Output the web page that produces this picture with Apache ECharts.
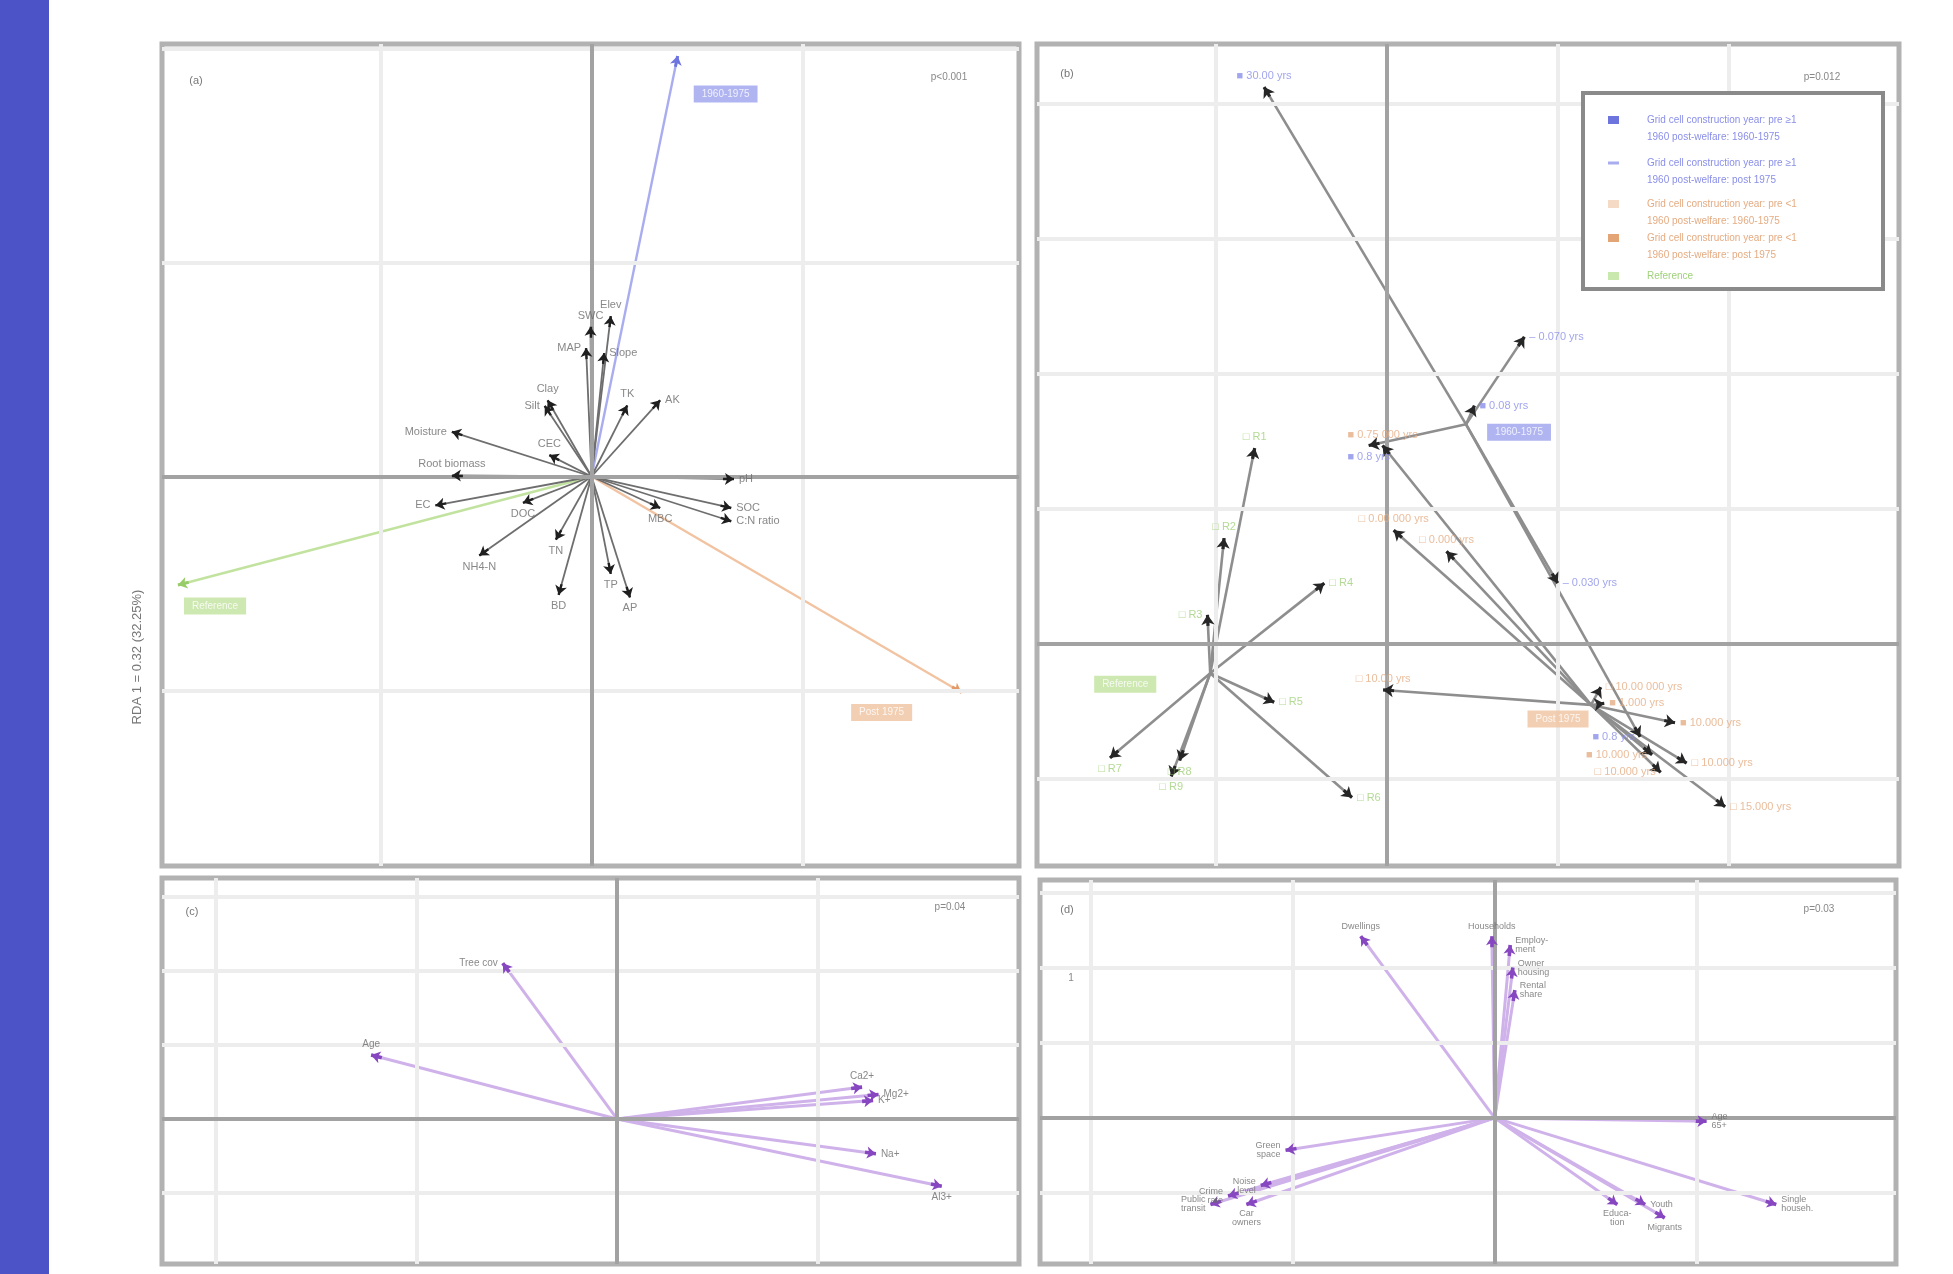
<!DOCTYPE html>
<html>
<head>
<meta charset="utf-8">
<title>RDA biplots</title>
<script src="https://cdn.jsdelivr.net/npm/echarts@6/dist/echarts.min.js"></script>
<style>
  html, body { margin: 0; padding: 0; background: #ffffff; }
  #chart { width: 1953px; height: 1274px; }
</style>
</head>
<body>
<div id="chart"></div>
<script>
// ---------------- data ----------------
// (a) environmental vectors (RDA scores)
const aVarNames = ['SWC', 'Elev', 'Slope', 'MAP', 'Clay', 'Silt', 'Moisture', 'TK', 'AK', 'pH', 'SOC',
  'C:N ratio', 'MBC', 'TN', 'NH4-N', 'BD', 'TP', 'AP', 'EC', 'Root biomass', 'DOC', 'CEC'];
const aVarX = [-0.005, 0.091, 0.060, -0.026, -0.208, -0.222, -0.662, 0.169, 0.325, 0.675, 0.662,
  0.662, 0.325, -0.169, -0.532, -0.156, 0.091, 0.182, -0.740, -0.662, -0.325, -0.200];
const aVarY = [0.700, 0.749, 0.577, 0.600, 0.356, 0.330, 0.209, 0.332, 0.356, -0.012, -0.147,
  -0.209, -0.147, -0.295, -0.369, -0.553, -0.455, -0.565, -0.135, 0.005, -0.123, 0.100];

// (a) group vectors
const groupNames = ['1960-1975', 'Post 1975', 'Reference'];
const aGroupX = [0.408, 1.754, -1.960];
const aGroupY = [1.965, -1.009, -0.507];

// (b) group centroids and sites
const bCentroidX = [0.462, 1.193, -1.034];
const bCentroidY = [1.627, -0.451, -0.216];
const bSiteLabels = ['30.00 yrs', '0.070 yrs', '0.08 yrs', '0.030 yrs', '0.8 yrs', '0.8 yrs',
  '0.75 000 yrs', '0.00 000 yrs', '0.000 yrs', '10.00 yrs', '10.000 yrs', '10.000 yrs', '15.000 yrs',
  '10.00 000 yrs', '1.000 yrs', '10.000 yrs', '10.000 yrs',
  'R1', 'R2', 'R3', 'R4', 'R5', 'R6', 'R7', 'R8', 'R9'];
const bSiteGroup = [0, 0, 0, 0, 0, 0,
  1, 1, 1, 1, 1, 1, 1, 1, 1, 1, 1,
  2, 2, 2, 2, 2, 2, 2, 2, 2];
const bSiteClass = [0, 1, 0, 1, 0, 0,
  3, 2, 2, 2, 3, 2, 2, 2, 3, 3, 2,
  4, 4, 4, 4, 4, 4, 4, 4, 4];
const bSiteX = [-0.719, 0.803, 0.511, 0.998, -0.107, 1.480,
  -0.026, 0.039, 0.348, -0.023, 1.684, 1.752, 1.977, 1.250, 1.270, 1.550, 1.600,
  -0.774, -0.953, -1.050, -0.367, -0.660, -0.205, -1.620, -1.213, -1.262];
const bSiteY = [4.125, 2.275, 1.765, 0.451, 1.470, -0.687,
  1.470, 0.843, 0.686, -0.340, -0.583, -0.882, -1.205, -0.320, -0.440, -0.820, -0.950,
  1.451, 0.784, 0.216, 0.451, -0.431, -1.137, -0.843, -0.863, -0.980];
const bClassText = [
  ['Grid cell construction year: pre \u22651', '1960 post-welfare: 1960-1975'],
  ['Grid cell construction year: pre \u22651', '1960 post-welfare: post 1975'],
  ['Grid cell construction year: pre <1', '1960 post-welfare: 1960-1975'],
  ['Grid cell construction year: pre <1', '1960 post-welfare: post 1975'],
  ['Reference']
];

// (c) vectors
const cVarNames = ['Tree cov', 'Age', 'Ca2+', 'Mg2+', 'K+', 'Na+', 'Al3+'];
const cVarX = [-0.569, -1.225, 1.221, 1.303, 1.276, 1.290, 1.618];
const cVarY = [2.105, 0.864, 0.431, 0.331, 0.249, -0.470, -0.910];

// (d) vectors
const dVarNames = ['Dwellings', 'Households', 'Employ-\nment', 'Owner\nhousing', 'Rental\nshare',
  'Age\n65+', 'Single\nhouseh.', 'Migrants', 'Youth', 'Educa-\ntion', 'Green\nspace',
  'Public\ntransit', 'Car\nowners', 'Noise\nlevel', 'Crime\nrate'];
const dVarX = [-0.663, -0.014, 0.077, 0.090, 0.100, 1.049, 1.394, 0.842, 0.745, 0.607, -1.035,
  -1.407, -1.229, -1.158, -1.320];
const dVarY = [2.417, 2.417, 2.300, 2.000, 1.700, -0.045, -1.152, -1.330, -1.152, -1.152, -0.430,
  -1.152, -1.152, -0.900, -1.040];

// panel annotations
const panelTags = ['(a)', '(b)', '(c)', '(d)'];
const panelStats = ['p<0.001', 'p=0.012', 'p=0.04', 'p=0.03'];
const axisTitle = 'RDA 1 = 0.32 (32.25%)';

// ---------------- layout & style ----------------
const FONT = '"Liberation Sans", "DejaVu Sans", Arial, sans-serif';
const panels = [
  { left: 162, top: 44, width: 857, height: 822, x: [-2.036, 2.026], y: [-1.820, 2.021], gx: [-1, 0, 1], gy: [-1, 0, 1, 2] },
  { left: 1037, top: 44, width: 862, height: 822, x: [-2.047, 2.994], y: [-1.644, 4.444], gx: [-1, 0, 1, 2], gy: [-1, 0, 1, 2, 3, 4] },
  { left: 162, top: 878, width: 857, height: 386, x: [-2.267, 2.003], y: [-1.960, 3.257], gx: [-2, -1, 0, 1], gy: [-1, 0, 1, 2, 3] },
  { left: 1040, top: 880, width: 856, height: 384, x: [-2.251, 1.987], y: [-1.944, 3.165], gx: [-2, -1, 0, 1], gy: [-1, 0, 1, 2, 3] }
];
const groupLine = ['#a9adf0', '#f2c3a1', '#c2e39f'];
const groupHead = ['#6f75e0', '#e39a66', '#98cc69'];
const groupBox = ['#9ca1ec', '#efc3a0', '#c2e29d'];
const groupText = ['#8a8fe8', '#e5ac83', '#a0d17b'];
const classMark = ['\u25A0', '\u2013', '\u25A1', '\u25A0', '\u25A1'];
const classMarkColor = ['#6d74de', '#a9adf0', '#f5dac6', '#e3a476', '#c9e8ad'];

// label sides where the automatic choice is not wanted
const sideA = { 2: 'right', 3: 'left', 4: 'top', 5: 'left', 7: 'top', 8: 'right', 12: 'bottom', 13: 'bottom',
  14: 'bottom', 19: 'top', 20: 'bottom', 21: 'top' };
const sideB = { 0: 'top', 1: 'right', 2: 'right', 3: 'right', 4: 'bottom', 5: 'left', 6: 'top', 7: 'top', 8: 'top',
  9: 'top', 10: 'right', 11: 'right', 12: 'right', 13: 'right', 14: 'right', 15: 'left', 16: 'left',
  17: 'top', 18: 'top', 19: 'left', 20: 'right', 21: 'right', 22: 'right', 23: 'bottom', 24: 'bottom', 25: 'bottom' };
const sideC = { 0: 'left', 1: 'top', 2: 'top', 3: 'right', 4: 'right', 5: 'right', 6: 'bottom' };
const sideD = { 0: 'top', 1: 'top', 2: 'right', 3: 'right', 4: 'right', 5: 'right', 6: 'right', 7: 'bottom',
  8: 'right', 9: 'bottom', 10: 'left', 11: 'left', 12: 'bottom', 13: 'left', 14: 'left' };
const boxOffsetA = [[48, 38], [-80, 20], [37, 21]];
const boxOffsetB = [[53, 8], [-33, 14], [-85, 11]];

// ---------------- helpers ----------------
function unitPx(i) {
  const p = panels[i];
  return [p.width / (p.x[1] - p.x[0]), p.height / (p.y[1] - p.y[0])];
}

function autoSide(i, x0, y0, x1, y1) {
  const [sx, sy] = unitPx(i);
  const ang = Math.atan2(-(y1 - y0) * sy, (x1 - x0) * sx) * 180 / Math.PI;
  if (ang > -55 && ang < 55) return 'right';
  if (ang > 125 || ang < -125) return 'left';
  return ang < 0 ? 'top' : 'bottom';
}

function gridLineSeries(i) {
  const p = panels[i];
  const light = [], dark = [];
  p.gx.forEach(v => (v === 0 ? dark : light).push({ xAxis: v }));
  p.gy.forEach(v => (v === 0 ? dark : light).push({ yAxis: v }));
  const lightItems = light.map(d => Object.assign(d, { lineStyle: { color: '#ededed', width: 4, type: 'solid' } }));
  const darkItems = dark.map(d => Object.assign(d, { lineStyle: { color: '#a2a2a2', width: 4, type: 'solid' } }));
  return {
    type: 'scatter', xAxisIndex: i, yAxisIndex: i, data: [], silent: true, z: 1,
    markLine: { silent: true, symbol: ['none', 'none'], label: { show: false }, animation: false,
      data: lightItems.concat(darkItems) }
  };
}

function arrowSeries(i, x0, y0, x1, y1, lineColor, headColor, width, headSize, z) {
  const [sx, sy] = unitPx(i);
  const body = [], tips = [];
  for (let k = 0; k < x1.length; k++) {
    const lc = Array.isArray(lineColor) ? lineColor[k] : lineColor;
    const hc = Array.isArray(headColor) ? headColor[k] : headColor;
    body.push({ coords: [[x0[k], y0[k]], [x1[k], y1[k]]], lineStyle: { color: lc } });
    const L = Math.hypot((x1[k] - x0[k]) * sx, (y1[k] - y0[k]) * sy);
    const t = 1 - Math.min(11, L * 0.4) / L;
    tips.push({ coords: [[x0[k] + t * (x1[k] - x0[k]), y0[k] + t * (y1[k] - y0[k])], [x1[k], y1[k]]],
      lineStyle: { color: hc } });
  }
  return [
    { type: 'lines', coordinateSystem: 'cartesian2d', xAxisIndex: i, yAxisIndex: i, silent: true, z: z,
      symbol: ['none', 'none'], lineStyle: { width: width, opacity: 1, curveness: 0 }, data: body },
    { type: 'lines', coordinateSystem: 'cartesian2d', xAxisIndex: i, yAxisIndex: i, silent: true, z: z + 1,
      symbol: ['none', 'arrow'], symbolSize: headSize, lineStyle: { width: width + 0.6, opacity: 1, curveness: 0 }, data: tips }
  ];
}

function labelSeries(i, x0, y0, x1, y1, texts, colors, sides, fontSize, lineHeight) {
  const data = texts.map((t, k) => ({
    value: [x1[k], y1[k]],
    label: {
      position: (sides && sides[k]) || autoSide(i, x0[k], y0[k], x1[k], y1[k]),
      formatter: t,
      color: Array.isArray(colors) ? colors[k] : colors
    }
  }));
  return {
    type: 'scatter', xAxisIndex: i, yAxisIndex: i, symbolSize: 0, silent: true, z: 8,
    label: { show: true, fontSize: fontSize || 10, fontFamily: FONT, distance: 5, lineHeight: lineHeight || 12 },
    data: data
  };
}

function boxSeries(i, xs, ys, offsets) {
  return {
    type: 'scatter', xAxisIndex: i, yAxisIndex: i, symbolSize: 0, silent: true, z: 9,
    data: groupNames.map((g, k) => ({
      value: [xs[k], ys[k]],
      label: { show: true, position: 'inside', offset: offsets[k], formatter: g, color: '#ffffff',
        backgroundColor: groupBox[k], padding: [4, 8, 3, 8], fontSize: 10, fontFamily: FONT }
    }))
  };
}

const zeros = n => new Array(n).fill(0);

// ---------------- series ----------------
const series = [];
for (let i = 0; i < 4; i++) series.push(gridLineSeries(i));

// (a)
series.push(...arrowSeries(0, zeros(aVarX.length), zeros(aVarY.length), aVarX, aVarY, '#6e6e6e', '#1f1f1f', 1.8, 9, 4));
series.push(labelSeries(0, zeros(aVarX.length), zeros(aVarY.length), aVarX, aVarY, aVarNames, '#6a6a6a', sideA, 11));
series.push(...arrowSeries(0, zeros(3), zeros(3), aGroupX, aGroupY, groupLine, groupHead, 2.4, 9, 3));
series.push(boxSeries(0, aGroupX, aGroupY, boxOffsetA));

// (b)
const bX0 = bSiteGroup.map(g => bCentroidX[g]);
const bY0 = bSiteGroup.map(g => bCentroidY[g]);
series.push(...arrowSeries(1, bX0, bY0, bSiteX, bSiteY, '#8e8e8e', '#262626', 2.6, 10, 4));
series.push(labelSeries(1, bX0, bY0, bSiteX, bSiteY,
  bSiteLabels.map((t, k) => classMark[bSiteClass[k]] + ' ' + t),
  bSiteGroup.map(g => groupText[g]), sideB, 11));
series.push(boxSeries(1, bCentroidX, bCentroidY, boxOffsetB));

// (c)
series.push(...arrowSeries(2, zeros(cVarX.length), zeros(cVarY.length), cVarX, cVarY, '#d0b2ea', '#8747c0', 3, 9, 4));
series.push(labelSeries(2, zeros(cVarX.length), zeros(cVarY.length), cVarX, cVarY, cVarNames, '#6a6a6a', sideC, 10));

// (d)
series.push(...arrowSeries(3, zeros(dVarX.length), zeros(dVarY.length), dVarX, dVarY, '#d0b2ea', '#8747c0', 3, 9, 4));
series.push(labelSeries(3, zeros(dVarX.length), zeros(dVarY.length), dVarX, dVarY, dVarNames, '#6a6a6a', sideD, 9, 9));

// ---------------- graphic overlay ----------------
const tagPos = [[196, 81], [1067, 74], [192, 912], [1067, 910]];
const statPos = [[949, 77], [1822, 77], [950, 907], [1819, 909]];
const graphic = [
  { type: 'rect', shape: { x: 0, y: 0, width: 49, height: 1274 }, style: { fill: '#4b53c6' }, silent: true }
];
panelTags.forEach((t, k) => graphic.push({ type: 'text', x: tagPos[k][0], y: tagPos[k][1], silent: true, z: 50,
  style: { text: t, fill: '#777', font: '11px ' + FONT, textAlign: 'center', textVerticalAlign: 'middle' } }));
panelStats.forEach((t, k) => graphic.push({ type: 'text', x: statPos[k][0], y: statPos[k][1], silent: true, z: 50,
  style: { text: t, fill: '#888', font: '10px ' + FONT, textAlign: 'center', textVerticalAlign: 'middle' } }));
graphic.push({ type: 'text', x: 1071, y: 978, silent: true, z: 50,
  style: { text: '1', fill: '#888', font: '10px ' + FONT, textAlign: 'center', textVerticalAlign: 'middle' } });
graphic.push({ type: 'text', x: 137, y: 657, rotation: Math.PI / 2, silent: true, z: 50,
  style: { text: axisTitle, fill: '#777', font: '13px ' + FONT, textAlign: 'center', textVerticalAlign: 'middle' } });

// legend of panel (b)
const legendBox = { x: 1583, y: 93, width: 300, height: 196 };
const legendRows = [120, 163, 204, 238, 276];
graphic.push({ type: 'rect', shape: legendBox, silent: true, z: 40,
  style: { fill: '#ffffff', stroke: '#8a8a8a', lineWidth: 4 } });
bClassText.forEach((lines, k) => {
  const cy = legendRows[k];
  const h = k === 1 ? 3 : 8;
  graphic.push({ type: 'rect', shape: { x: 1608, y: cy - h / 2, width: 11, height: h }, silent: true, z: 41,
    style: { fill: classMarkColor[k] } });
  lines.forEach((ln, j) => graphic.push({ type: 'text', x: 1647, y: cy + j * 17.5, silent: true, z: 41,
    style: { text: ln, fill: groupText[k < 2 ? 0 : (k < 4 ? 1 : 2)], font: '10px ' + FONT,
      textAlign: 'left', textVerticalAlign: 'middle' } }));
});

// ---------------- chart ----------------
const option = {
  animation: false,
  backgroundColor: '#ffffff',
  textStyle: { fontFamily: FONT },
  grid: panels.map(p => ({ left: p.left, top: p.top, width: p.width, height: p.height, show: true,
    borderColor: '#b2b2b2', borderWidth: 5, backgroundColor: '#ffffff' })),
  xAxis: panels.map((p, i) => ({ type: 'value', gridIndex: i, min: p.x[0], max: p.x[1],
    axisLine: { show: false }, axisTick: { show: false }, axisLabel: { show: false }, splitLine: { show: false } })),
  yAxis: panels.map((p, i) => ({ type: 'value', gridIndex: i, min: p.y[0], max: p.y[1],
    axisLine: { show: false }, axisTick: { show: false }, axisLabel: { show: false }, splitLine: { show: false } })),
  series: series,
  graphic: graphic
};

const chart = echarts.init(document.getElementById('chart'), null, { renderer: 'canvas', width: 1953, height: 1274 });
chart.setOption(option);
</script>
</body>
</html>
